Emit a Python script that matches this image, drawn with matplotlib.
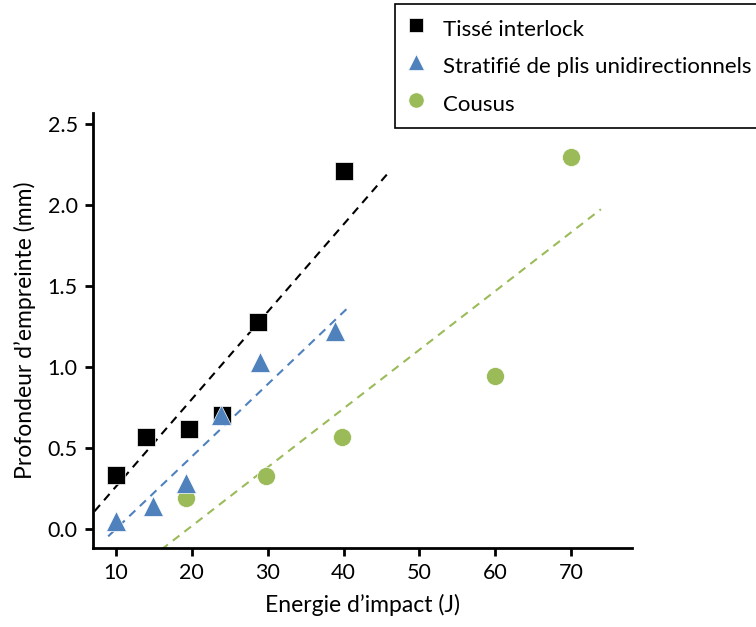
import matplotlib.pyplot as plt

plt.rcParams['font.family'] = ['Lato', 'DejaVu Sans']

# Tissé interlock
tisse_x = [10, 14, 19.7, 24, 28.8, 40]
tisse_y = [0.334, 0.567, 0.617, 0.705, 1.277, 2.21]
# Stratifié de plis unidirectionnels
strat_x = [10, 14.9, 19.3, 23.9, 29, 38.9]
strat_y = [0.045, 0.138, 0.283, 0.705, 1.03, 1.22]
# Cousus
cousu_x = [19.3, 29.8, 39.8, 59.9, 69.9]
cousu_y = [0.19, 0.328, 0.565, 0.943, 2.30]

# dashed trend lines (start / end)
tisse_trend_x = [7.2, 46.1]
tisse_trend_y = [0.107, 2.21]
strat_trend_x = [9.0, 40.6]
strat_trend_y = [-0.048, 1.366]
cousu_trend_x = [16.0, 73.9]
cousu_trend_y = [-0.13, 1.974]

labels = ['Tissé interlock', 'Stratifié de plis unidirectionnels', 'Cousus']
x_ticks = [10, 20, 30, 40, 50, 60, 70]
y_ticks = [0.0, 0.5, 1.0, 1.5, 2.0, 2.5]

black = '#000000'
blue = '#4F81BD'
green = '#9BBB59'

fig = plt.figure(figsize=(7.56, 6.27), dpi=100)
ax = fig.add_axes([0.123, 0.126, 0.713, 0.694])

ax.plot(tisse_trend_x, tisse_trend_y, color=black, ls=(0, (4, 3)), lw=1.5, zorder=2)
ax.plot(strat_trend_x, strat_trend_y, color=blue, ls=(0, (4, 3)), lw=1.5, zorder=2)
ax.plot(cousu_trend_x, cousu_trend_y, color=green, ls=(0, (4, 3)), lw=1.5, zorder=2)

h1, = ax.plot(tisse_x, tisse_y, 's', color=black, ms=12.5, mec='white', mew=0.5, ls='none', label=labels[0], zorder=3)
h2, = ax.plot(strat_x, strat_y, '^', color=blue, ms=14, mec='white', mew=0.5, ls='none', label=labels[1], zorder=4)
h3, = ax.plot(cousu_x, cousu_y, 'o', color=green, ms=13, mec='white', mew=0.5, ls='none', label=labels[2], zorder=3)

ax.set_xlim(7.0, 78.0)
ax.set_ylim(-0.12, 2.57)
ax.set_xticks(x_ticks)
ax.set_yticks(y_ticks)
ax.set_yticklabels(['%.1f' % v for v in y_ticks])

for side in ['top', 'right']:
    ax.spines[side].set_visible(False)
for side in ['left', 'bottom']:
    ax.spines[side].set_linewidth(2)
ax.tick_params(width=2, length=6, labelsize=15.5, pad=5)

ax.set_xlabel('Energie d\u2019impact (J)', fontsize=16.5, labelpad=8)
ax.set_ylabel('Profondeur d\u2019empreinte (mm)', fontsize=16.5, labelpad=8)

leg = fig.legend(handles=[h1, h2, h3], loc='upper left', bbox_to_anchor=(0.523, 0.994),
                 bbox_transform=fig.transFigure, fontsize=16, frameon=True, fancybox=False,
                 edgecolor='black', framealpha=1, handletextpad=0.7, labelspacing=0.33,
                 borderpad=0.45, borderaxespad=0, handlelength=1.0, handleheight=1.7,
                 markerscale=0.85)
leg.get_frame().set_linewidth(1.2)

plt.savefig('out.png', dpi=100)
plt.close()
